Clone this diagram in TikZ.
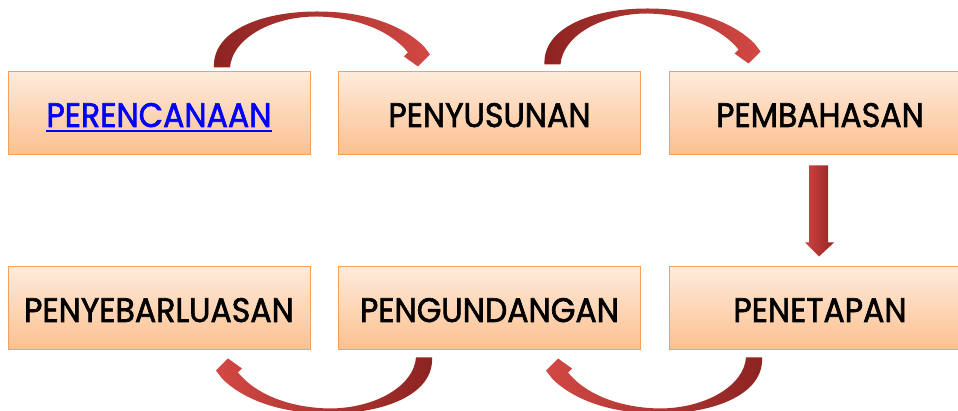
\documentclass[tikz,border=0pt]{standalone}
\usepackage{fontspec}
\usetikzlibrary{calc}
\newfontfamily\boxfont{Poppins}[FakeStretch=0.93, FakeBold=1.8]
\definecolor{boxtop}{RGB}{254,235,220}
\definecolor{boxbot}{RGB}{251,192,143}
\definecolor{boxline}{RGB}{247,160,90}
\definecolor{arrdark}{RGB}{140,35,33}
\definecolor{arrlight}{RGB}{210,72,68}
\definecolor{varrleft}{RGB}{205,68,65}
\definecolor{varrmid}{RGB}{212,72,68}
\definecolor{varrright}{RGB}{150,36,34}
\newcommand\myul[1]{\setbox0\hbox{#1}\rlap{\rule[-5pt]{\wd0}{2pt}}\box0}
\newcommand\curvearrowpath{(-108,-28) .. controls (-110,8) and (-62,28) .. (-5,28) .. controls (48,28) and (83,12) .. (102,-7) -- (108,-15) -- (96,-27) -- (82,-17) -- (86,-13) .. controls (70,7) and (38,22) .. (-5,23) .. controls (-52,23) and (-90,0) .. (-92,-28) -- cycle}
\tikzset{
  stepbox/.style={rectangle, minimum width=302pt, minimum height=83pt, inner sep=0pt,
    text height=27pt, text depth=0pt,
    top color=boxtop, bottom color=boxbot, draw=boxline, line width=1pt,
    font=\boxfont\fontsize{34}{40}\selectfont},
}
\begin{document}
\begin{tikzpicture}[x=1pt,y=1pt]
\useasboundingbox (0,0) rectangle (958,411);
\clip (0,0) rectangle (958,411);
\node[stepbox, text=blue] (b1) at (159,297.5) {\myul{PERENCANAAN}};
\node[stepbox] (b2) at (489.5,297.5) {PENYUSUNAN};
\node[stepbox] (b3) at (820,297.5) {PEMBAHASAN};
\node[stepbox] (b4) at (159,102.5) {PENYEBARLUASAN};
\node[stepbox] (b5) at (489.5,102.5) {PENGUNDANGAN};
\node[stepbox] (b6) at (820,102.5) {PENETAPAN};
% curved arrows top
\begin{scope}[shift={($(b1.north)+(163,32)$)}]
  \shade[left color=arrdark, right color=arrlight] \curvearrowpath;
\end{scope}
\begin{scope}[shift={($(b2.north)+(163,35)$)}]
  \shade[left color=arrdark, right color=arrlight] \curvearrowpath;
\end{scope}
% curved arrows bottom
\begin{scope}[shift={($(b6.south)+(-166,-35)$)}, rotate=180]
  \shade[left color=arrlight, right color=arrdark] \curvearrowpath;
\end{scope}
\begin{scope}[shift={($(b5.south)+(-165.5,-35)$)}, rotate=180]
  \shade[left color=arrlight, right color=arrdark] \curvearrowpath;
\end{scope}
% vertical arrow
\shade[left color=varrleft, middle color=varrmid, right color=varrright]
  ($(b3.south)+(-11,-10)$) -- ($(b3.south)+(8,-10)$) -- ($(b6.north)+(8,24)$) -- ($(b6.north)+(14,24)$)
  -- ($(b6.north)+(-1,10)$) -- ($(b6.north)+(-15,24)$) -- ($(b6.north)+(-11,24)$) -- cycle;
\end{tikzpicture}
\end{document}
